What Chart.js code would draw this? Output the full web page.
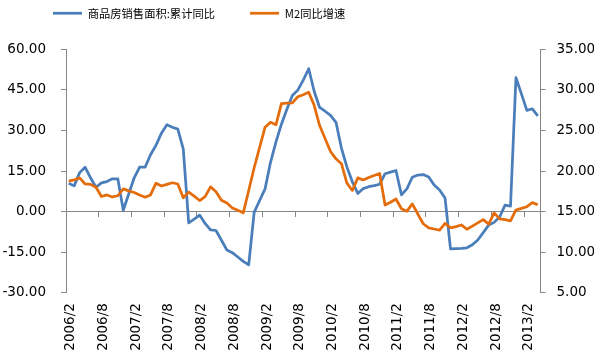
<!DOCTYPE html>
<html><head><meta charset="utf-8">
<script src="https://cdn.jsdelivr.net/npm/chart.js@4.4.1/dist/chart.umd.min.js"></script>
<style>html,body{margin:0;padding:0;background:#fff}</style>
</head><body>
<canvas id="c" width="601" height="359"></canvas>
<script>
const categories = [
 '2006/2','2006/3','2006/4','2006/5','2006/6','2006/7','2006/8','2006/9','2006/10','2006/11','2006/12',
 '2007/1','2007/2','2007/3','2007/4','2007/5','2007/6','2007/7','2007/8','2007/9','2007/10','2007/11','2007/12',
 '2008/1','2008/2','2008/3','2008/4','2008/5','2008/6','2008/7','2008/8','2008/9','2008/10','2008/11','2008/12',
 '2009/1','2009/2','2009/3','2009/4','2009/5','2009/6','2009/7','2009/8','2009/9','2009/10','2009/11','2009/12',
 '2010/1','2010/2','2010/3','2010/4','2010/5','2010/6','2010/7','2010/8','2010/9','2010/10','2010/11','2010/12',
 '2011/1','2011/2','2011/3','2011/4','2011/5','2011/6','2011/7','2011/8','2011/9','2011/10','2011/11','2011/12',
 '2012/1','2012/2','2012/3','2012/4','2012/5','2012/6','2012/7','2012/8','2012/9','2012/10','2012/11','2012/12',
 '2013/1','2013/2','2013/3','2013/4'
];
const xTickLabels = ['2006/2','2006/8','2007/2','2007/8','2008/2','2008/8','2009/2','2009/8','2010/2','2010/8','2011/2','2011/8','2012/2','2012/8','2013/2'];
const salesArea = [
 10.5, 9.5, 14.4, 16.4, 12.5, 9.0, 10.6, 11.1, 12.1, 12.1, 0.5,
 6.5, 12.5, 16.4, 16.4, 21.0, 24.5, 29.0, 32.1, 31.2, 30.5, 23.2, -4.2,
 -2.8, -1.3, -4.4, -6.8, -7.0, -10.6, -14.2, -15.2, -16.8, -18.4, -19.7, -0.3,
 4.1, 8.4, 18.2, 25.8, 32.3, 37.8, 42.9, 44.9, 48.6, 52.8, 44.5, 38.5,
 37.1, 35.6, 33.0, 23.5, 16.5, 11.0, 6.7, 8.5, 9.2, 9.6, 10.1, 14.0,
 14.6, 15.2, 6.2, 8.4, 12.7, 13.5, 13.7, 12.8, 9.8, 8.0, 5.0, -13.8,
 -13.7, -13.6, -13.4, -12.3, -10.5, -7.8, -5.0, -4.0, -2.0, 2.4, 2.0, 49.5,
 43.5, 37.4, 38.0, 35.4
];
const m2 = [
 18.75, 18.9, 19.15, 18.4, 18.35, 18.0, 16.85, 17.05, 16.8, 16.95, 17.8,
 17.55, 17.35, 17.05, 16.77, 17.05, 18.5, 18.15, 18.35, 18.55, 18.4, 16.7, 17.4,
 16.9, 16.36, 16.85, 18.05, 17.45, 16.4, 16.05, 15.45, 15.15, 14.84, 17.6, 20.4,
 22.9, 25.4, 26.0, 25.7, 28.3, 28.37, 28.4, 29.15, 29.4, 29.7, 28.1, 25.6,
 24.0, 22.4, 21.5, 20.9, 18.5, 17.6, 19.15, 18.9, 19.2, 19.45, 19.7, 15.8,
 16.15, 16.55, 15.35, 15.05, 15.95, 14.7, 13.5, 13.0, 12.85, 12.7, 13.55, 13.0,
 13.15, 13.35, 12.82, 13.2, 13.6, 14.0, 13.45, 14.84, 14.1, 14.0, 13.85, 15.2,
 15.4, 15.6, 16.1, 15.85
];
const leftTicks = [-30, -15, 0, 15, 30, 45, 60];
const rightTicks = [5, 10, 15, 20, 25, 30, 35];

const BLUE = '#4a7ebb';
const ORANGE = '#e46c0a';
const AXIS = '#868686';
const axisFont = { family: '"DejaVu Sans", sans-serif', size: 13.5 };
const legendFont = { family: '"Noto Sans CJK SC", sans-serif', size: 11.3 };

// place the legend block (start-aligned) at the top-left like the original
const legendPlacer = {
  id: 'legendPlacer',
  afterLayout(chart) {
    const lg = chart.legend;
    if (!lg) return;
    lg.left = 18;
    lg.top = -27.4;
    lg.bottom = 32;
    lg.right = chart.width;
  }
};

new Chart(document.getElementById('c'), {
  type: 'line',
  data: {
    labels: categories,
    datasets: [
      { label: '商品房销售面积:累计同比', data: salesArea, xAxisID: 'x', yAxisID: 'y',
        borderColor: BLUE, backgroundColor: BLUE, borderWidth: 2.75, pointRadius: 0,
        tension: 0, borderJoinStyle: 'round', order: 1 },
      { label: 'M2同比增速', data: m2, xAxisID: 'x', yAxisID: 'y1',
        borderColor: ORANGE, backgroundColor: ORANGE, borderWidth: 2.75, pointRadius: 0,
        tension: 0, borderJoinStyle: 'round', order: 0 }
    ]
  },
  plugins: [legendPlacer],
  options: {
    responsive: false,
    animation: false,
    devicePixelRatio: 1,
    layout: { padding: { top: 0, left: 0, right: 7, bottom: 0 } },
    plugins: {
      tooltip: { enabled: false },
      legend: {
        position: 'top', align: 'start', maxHeight: 40,
        labels: {
          usePointStyle: true, pointStyle: 'line', pointStyleWidth: 29,
          padding: 35, color: '#000', font: legendFont,
          sort: (a, b) => a.datasetIndex - b.datasetIndex
        }
      }
    },
    scales: {
      x: {
        type: 'category', position: 'bottom', offset: true,
        grid: { display: false, drawTicks: false },
        border: { display: false },
        ticks: {
          autoSkip: false, minRotation: 90, maxRotation: 90, padding: 10.5, labelOffset: 2,
          color: '#000', font: axisFont,
          callback: (v, i) => xTickLabels.includes(categories[i]) ? categories[i] : ''
        },
        afterFit: s => { s.height = 66.3; }
      },
      x2: {
        type: 'category', axis: 'x', position: { y: 0 }, offset: true,
        grid: {
          display: true, offset: true, drawOnChartArea: false, drawTicks: true, tickLength: 5,
          color: 'rgba(0,0,0,0)',
          tickColor: c => (c.index !== undefined && xTickLabels.includes(categories[c.index])) ? AXIS : 'rgba(0,0,0,0)'
        },
        border: { display: true, color: AXIS, width: 1 },
        ticks: { display: false, autoSkip: false }
      },
      y: {
        position: 'left', min: -30, max: 60,
        afterBuildTicks: s => { s.ticks = leftTicks.map(v => ({ value: v })); },
        ticks: { padding: 15, color: '#000', font: axisFont, callback: v => Number(v).toFixed(2) },
        grid: { drawOnChartArea: false, tickLength: 5, color: AXIS },
        border: { color: AXIS, width: 1 },
        afterFit: s => { s.width = 66; s.paddingTop = 49.3; }
      },
      y1: {
        position: 'right', min: 5, max: 35,
        afterBuildTicks: s => { s.ticks = rightTicks.map(v => ({ value: v })); },
        ticks: { padding: 11, color: '#000', font: axisFont, callback: v => Number(v).toFixed(2) },
        grid: { drawOnChartArea: false, tickLength: 5, color: AXIS },
        border: { color: AXIS, width: 1 },
        afterFit: s => { s.width = 53.5; }
      }
    }
  }
});
</script>
</body></html>
